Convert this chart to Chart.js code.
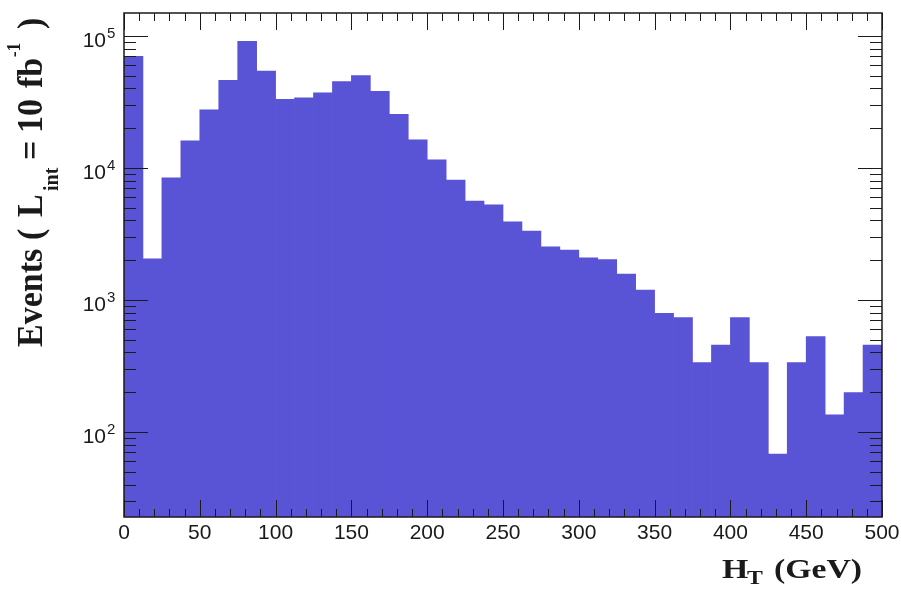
<!DOCTYPE html>
<html lang="en">
<head>
<meta charset="UTF-8" />
<title>HT distribution</title>
<script src="https://cdn.jsdelivr.net/npm/chart.js"></script>
<style>
  body { margin: 0; background: #fff; }
  .wrap { width: 901px; height: 592px; }
</style>
</head>
<body>
<div class="wrap"><canvas id="myChart" width="901" height="592"></canvas></div>
<script>
"use strict";
// 40 bins of 12.5 GeV, centres
const binCenters = [
  6.25, 18.75, 31.25, 43.75, 56.25, 68.75, 81.25, 93.75, 106.25, 118.75,
  131.25, 143.75, 156.25, 168.75, 181.25, 193.75, 206.25, 218.75, 231.25, 243.75,
  256.25, 268.75, 281.25, 293.75, 306.25, 318.75, 331.25, 343.75, 356.25, 368.75,
  381.25, 393.75, 406.25, 418.75, 431.25, 443.75, 456.25, 468.75, 481.25, 493.75
];
const events = [
  70000, 2050, 8400, 16000, 27500, 46000, 91000, 54000, 33000, 34000,
  37000, 45000, 50000, 38000, 25500, 16300, 11500, 8100, 5600, 5250,
  3900, 3330, 2520, 2390, 2080, 2020, 1570, 1190, 790, 735,
  335, 456, 735, 335, 68, 335, 527, 135, 199, 456
];
const xTickLabels = ["0", "50", "100", "150", "200", "250", "300", "350", "400", "450", "500"];
const yTickExponents = [2, 3, 4, 5];

const sansFont = "'Liberation Sans', Arial, sans-serif";
const serifFont = "'Liberation Serif', 'Times New Roman', serif";

const rootAxes = {
  id: "rootAxes",
  afterDraw(chart) {
    const { ctx, chartArea: a, scales: { x, y } } = chart;
    ctx.save();
    ctx.strokeStyle = "#1a1a1a";
    ctx.lineWidth = 1;
    const seg = (x1, y1, x2, y2) => {
      ctx.beginPath(); ctx.moveTo(x1, y1); ctx.lineTo(x2, y2); ctx.stroke();
    };

    // x ticks, inward, bottom and top
    for (let v = 0; v <= 500; v += 10) {
      const px = Math.round(x.getPixelForValue(v)) + 0.5;
      const len = v % 50 === 0 ? 17 : 8;
      seg(px, a.bottom, px, a.bottom - len);
      seg(px, a.top, px, a.top + len);
    }
    // y ticks, inward, left and right
    for (let e = 1; e <= 5; e++) {
      for (let m = 1; m < 10; m++) {
        const v = m * Math.pow(10, e);
        if (v < y.min || v > y.max) continue;
        const py = Math.round(y.getPixelForValue(v)) + 0.5;
        const len = m === 1 ? 24 : 12;
        seg(a.left, py, a.left + len, py);
        seg(a.right, py, a.right - len, py);
      }
    }
    // frame
    ctx.lineWidth = 1.5;
    ctx.strokeRect(a.left, a.top, a.right - a.left, a.bottom - a.top);

    // x tick labels
    ctx.fillStyle = "#1a1a1a";
    ctx.font = "21px " + sansFont;
    ctx.textAlign = "center";
    ctx.textBaseline = "alphabetic";
    xTickLabels.forEach(t => {
      ctx.fillText(t, x.getPixelForValue(Number(t)), a.bottom + 22);
    });

    // y tick labels 10^n
    yTickExponents.forEach(n => {
      const py = y.getPixelForValue(Math.pow(10, n));
      ctx.font = "21px " + sansFont;
      ctx.textAlign = "right";
      ctx.fillText("10", 106, py + 11);
      ctx.font = "15px " + sansFont;
      ctx.textAlign = "left";
      ctx.fillText(String(n), 107, py + 2);
    });

    // y title, rotated
    ctx.save();
    ctx.translate(42, 347);
    ctx.rotate(-Math.PI / 2);
    ctx.scale(1, 1.08);
    ctx.textAlign = "left";
    const main = "bold 34px " + serifFont;
    const parts = [
      ["Events", main, 0, 0],
      ["(", main, 107, 0],
      ["L", main, 130, 0],
      ["int", "bold 20px " + serifFont, 156, 15],
      ["=", main, 187, 0],
      ["10", main, 214, 0],
      ["fb", main, 259, 0],
      ["-1", "bold 17px " + serifFont, 290, -20],
      [")", main, 318, 0]
    ];
    parts.forEach(([t, f, u, dy]) => {
      ctx.font = f;
      ctx.fillText(t, u, dy);
    });
    ctx.restore();

    // x title
    ctx.save();
    ctx.translate(722, 578);
    ctx.scale(1.25, 1);
    ctx.textAlign = "left";
    ctx.font = "bold 27px " + serifFont;
    ctx.fillText("H", 0, 0);
    ctx.font = "bold 19px " + serifFont;
    ctx.fillText("T", 20, 6);
    ctx.font = "bold 27px " + serifFont;
    ctx.textAlign = "right";
    ctx.fillText("(GeV)", 112, 0);
    ctx.restore();

    ctx.restore();
  }
};

const ctx = document.getElementById("myChart").getContext("2d");
new Chart(ctx, {
  type: "bar",
  data: {
    datasets: [{
      data: binCenters.map((c, i) => ({ x: c, y: events[i] })),
      backgroundColor: "#5953d6",
      borderWidth: 0,
      barPercentage: 1,
      categoryPercentage: 1
    }]
  },
  options: {
    responsive: false,
    animation: false,
    layout: { padding: { left: 124, top: 13, right: 19, bottom: 75 } },
    scales: {
      x: { type: "linear", min: 0, max: 500, offset: false, display: false },
      y: { type: "logarithmic", min: 22.7, max: 149000, display: false }
    },
    plugins: {
      legend: { display: false },
      tooltip: { enabled: false }
    }
  },
  plugins: [rootAxes]
});
</script>
</body>
</html>
